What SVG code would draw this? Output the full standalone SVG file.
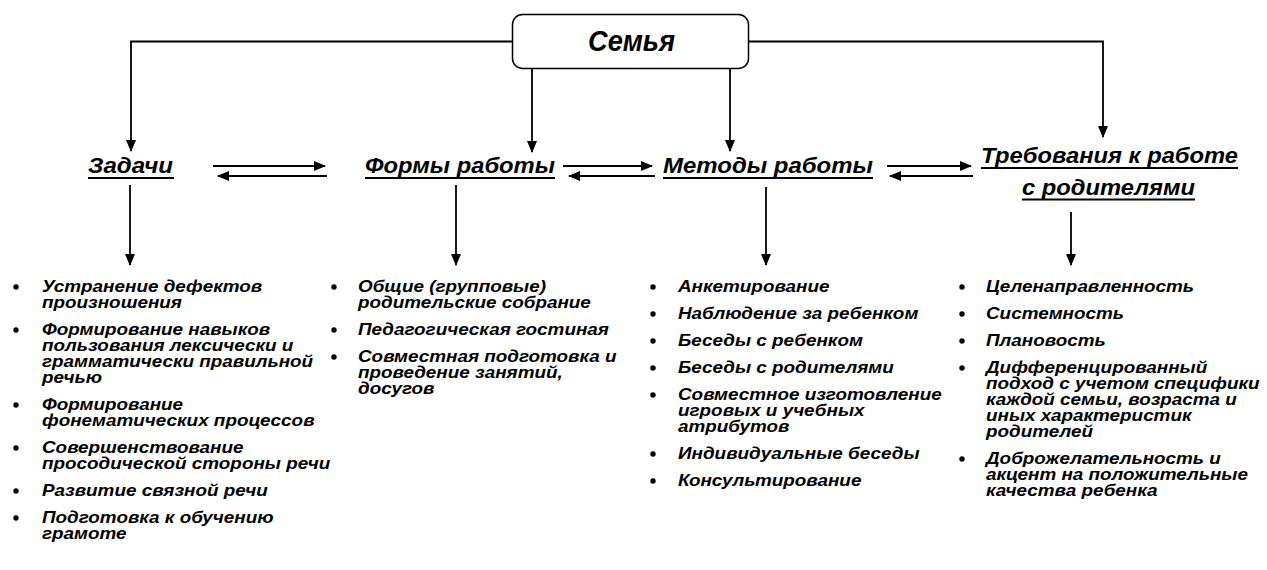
<svg xmlns="http://www.w3.org/2000/svg" width="1267" height="570" viewBox="0 0 1267 570">
<style>
.t{font-family:"Liberation Sans",Arial,sans-serif;font-weight:bold;font-style:italic;fill:#000}
.h{font-size:22px}
.li{font-size:16px}
.c{fill:none;stroke:#000;stroke-width:1.8}
.u{stroke:#000;stroke-width:2}
.b{fill:#000}
.box{fill:#fff;stroke:#000;stroke-width:1.5}
</style>
<defs>
<marker id="a" markerUnits="userSpaceOnUse" markerWidth="12" markerHeight="10" refX="11" refY="5" orient="auto"><path d="M0,0 L12,5 L0,10 z" fill="#000"/></marker>
</defs>
<rect width="1267" height="570" fill="#fff"/>
<g id="connectors">
<path class="c" d="M512,41.5 H131 V151" marker-end="url(#a)"/>
<path class="c" d="M749,41.5 H1103 V137" marker-end="url(#a)"/>
<path class="c" d="M532,68 V152" marker-end="url(#a)"/>
<path class="c" d="M730,68 V151" marker-end="url(#a)"/>
<path class="c" d="M213,166 H325" marker-end="url(#a)"/>
<path class="c" d="M327,176 H218" marker-end="url(#a)"/>
<path class="c" d="M563,166 H652" marker-end="url(#a)"/>
<path class="c" d="M655,176 H569" marker-end="url(#a)"/>
<path class="c" d="M887,166 H971" marker-end="url(#a)"/>
<path class="c" d="M973,176 H890" marker-end="url(#a)"/>
<path class="c" d="M130,185 V265" marker-end="url(#a)"/>
<path class="c" d="M456,185 V265" marker-end="url(#a)"/>
<path class="c" d="M766,187 V265" marker-end="url(#a)"/>
<path class="c" d="M1071,212 V265" marker-end="url(#a)"/>
</g>
<g id="family">
<rect class="box" x="512.5" y="14.5" width="236" height="54" rx="10"/>
<text class="t" x="588" y="51" font-size="29" textLength="87" lengthAdjust="spacingAndGlyphs">Семья</text>
</g>
<g id="tasks">
<text class="t h" x="88" y="173" textLength="85" lengthAdjust="spacingAndGlyphs">Задачи</text>
<line class="u" x1="88" y1="178" x2="174" y2="178"/>
</g>
<g id="forms">
<text class="t h" x="365" y="173" textLength="190" lengthAdjust="spacingAndGlyphs">Формы работы</text>
<line class="u" x1="365" y1="178" x2="555" y2="178"/>
</g>
<g id="methods">
<text class="t h" x="663" y="173" textLength="210" lengthAdjust="spacingAndGlyphs">Методы работы</text>
<line class="u" x1="663" y1="178" x2="873" y2="178"/>
</g>
<g id="requirements">
<text class="t h" x="981" y="163" textLength="257" lengthAdjust="spacingAndGlyphs">Требования к работе</text>
<line class="u" x1="981" y1="168" x2="1238" y2="168"/>
<text class="t h" x="1022" y="195" textLength="173" lengthAdjust="spacingAndGlyphs">с родителями</text>
<line class="u" x1="1022" y1="199.5" x2="1195" y2="199.5"/>
</g>
<g id="tasks-list">
<g class="b">
<circle cx="16" cy="287" r="2.7"/><circle cx="16" cy="330" r="2.7"/><circle cx="16" cy="405" r="2.7"/><circle cx="16" cy="448" r="2.7"/><circle cx="16" cy="491" r="2.7"/><circle cx="16" cy="518" r="2.7"/>
</g>
<g transform="translate(42,0) scale(1.18,1)">
<text class="t li" y="292"><tspan x="0">Устранение дефектов</tspan><tspan x="0" dy="16">произношения</tspan></text>
<text class="t li" y="335"><tspan x="0">Формирование навыков</tspan><tspan x="0" dy="16">пользования лексически и</tspan><tspan x="0" dy="16">грамматически правильной</tspan><tspan x="0" dy="16">речью</tspan></text>
<text class="t li" y="410"><tspan x="0">Формирование</tspan><tspan x="0" dy="16">фонематических процессов</tspan></text>
<text class="t li" y="453"><tspan x="0">Совершенствование</tspan><tspan x="0" dy="16">просодической стороны речи</tspan></text>
<text class="t li" y="496">Развитие связной речи</text>
<text class="t li" y="523"><tspan x="0">Подготовка к обучению</tspan><tspan x="0" dy="16">грамоте</tspan></text>
</g>
</g>
<g id="forms-list">
<g class="b">
<circle cx="334" cy="287" r="2.7"/><circle cx="334" cy="330" r="2.7"/><circle cx="334" cy="357" r="2.7"/>
</g>
<g transform="translate(358,0) scale(1.18,1)">
<text class="t li" y="292"><tspan x="0">Общие (групповые)</tspan><tspan x="0" dy="16">родительские собрание</tspan></text>
<text class="t li" y="335">Педагогическая гостиная</text>
<text class="t li" y="362"><tspan x="0">Совместная подготовка и</tspan><tspan x="0" dy="16">проведение занятий,</tspan><tspan x="0" dy="16">досугов</tspan></text>
</g>
</g>
<g id="methods-list">
<g class="b">
<circle cx="653" cy="287" r="2.7"/><circle cx="653" cy="314" r="2.7"/><circle cx="653" cy="341" r="2.7"/><circle cx="653" cy="368" r="2.7"/><circle cx="653" cy="395" r="2.7"/><circle cx="653" cy="454" r="2.7"/><circle cx="653" cy="481" r="2.7"/>
</g>
<g transform="translate(678,0) scale(1.18,1)">
<text class="t li" y="292">Анкетирование</text>
<text class="t li" y="319">Наблюдение за ребенком</text>
<text class="t li" y="346">Беседы с ребенком</text>
<text class="t li" y="373">Беседы с родителями</text>
<text class="t li" y="400"><tspan x="0">Совместное изготовление</tspan><tspan x="0" dy="16">игровых и учебных</tspan><tspan x="0" dy="16">атрибутов</tspan></text>
<text class="t li" y="459">Индивидуальные беседы</text>
<text class="t li" y="486">Консультирование</text>
</g>
</g>
<g id="requirements-list">
<g class="b">
<circle cx="962" cy="287" r="2.7"/><circle cx="962" cy="314" r="2.7"/><circle cx="962" cy="341" r="2.7"/><circle cx="962" cy="368" r="2.7"/><circle cx="962" cy="459" r="2.7"/>
</g>
<g transform="translate(986,0) scale(1.18,1)">
<text class="t li" y="292">Целенаправленность</text>
<text class="t li" y="319">Системность</text>
<text class="t li" y="346">Плановость</text>
<text class="t li" y="373"><tspan x="0">Дифференцированный</tspan><tspan x="0" dy="16">подход с учетом специфики</tspan><tspan x="0" dy="16">каждой семьи, возраста и</tspan><tspan x="0" dy="16">иных характеристик</tspan><tspan x="0" dy="16">родителей</tspan></text>
<text class="t li" y="464"><tspan x="0">Доброжелательность и</tspan><tspan x="0" dy="16">акцент на положительные</tspan><tspan x="0" dy="16">качества ребенка</tspan></text>
</g>
</g>
</svg>
